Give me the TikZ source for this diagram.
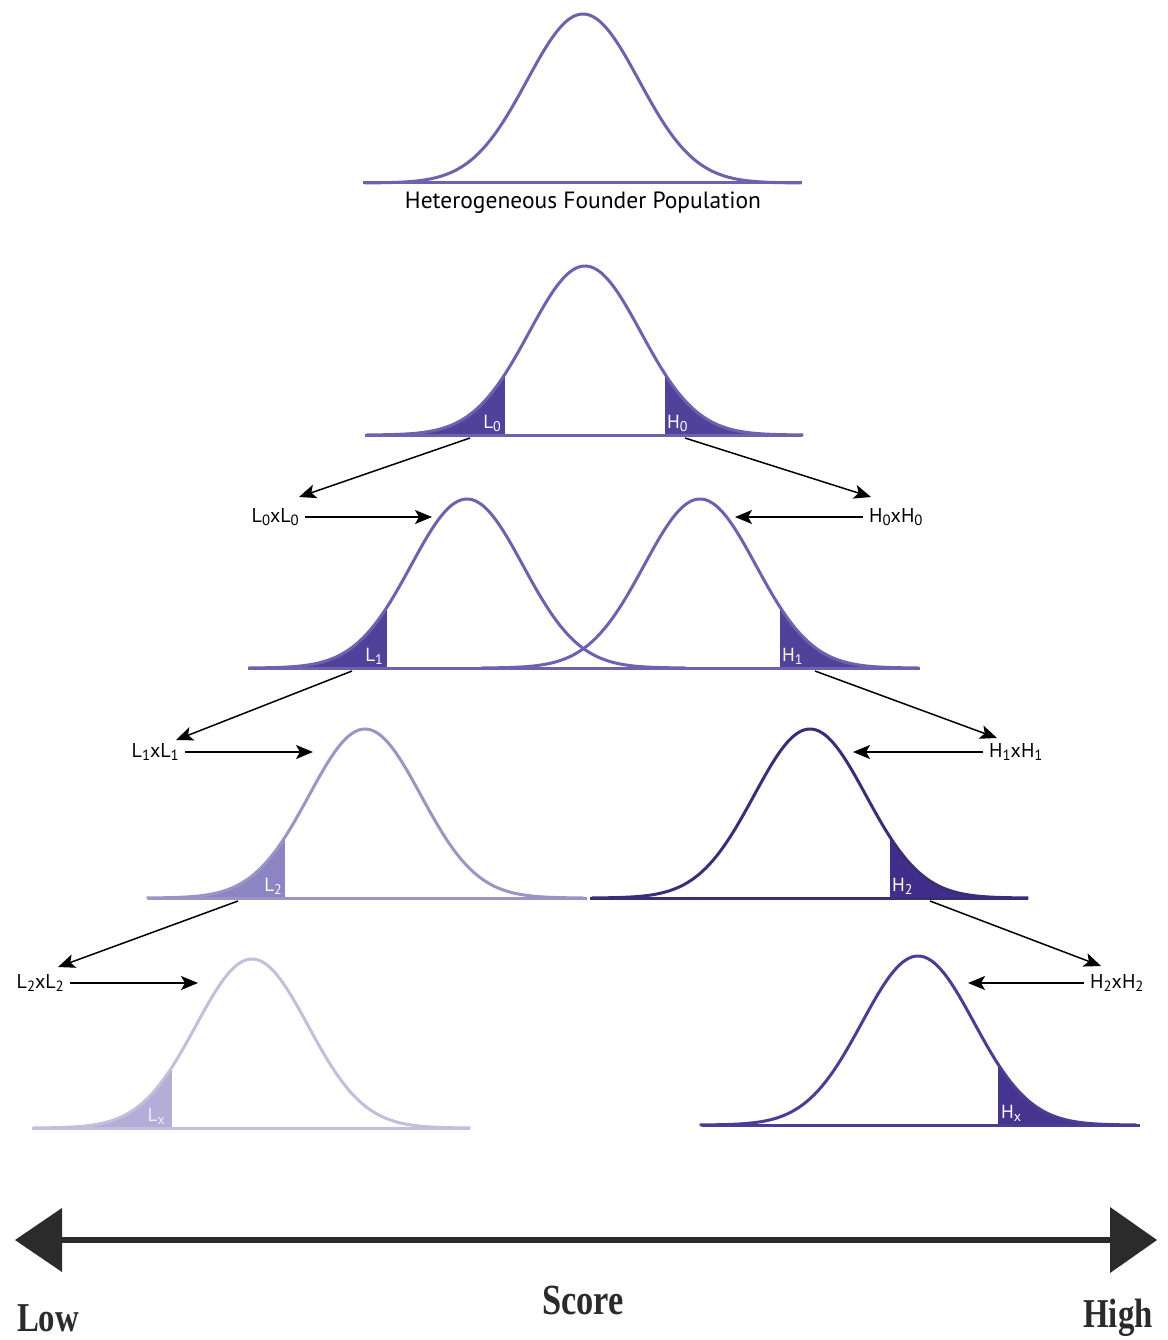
\documentclass[tikz,border=0pt]{standalone}
\usepackage{fontspec}
\setmainfont{PT Sans}
\newfontfamily\axisfont{Liberation Serif}
\usetikzlibrary{arrows.meta}
\definecolor{cmain}{HTML}{6C63B0}
\definecolor{fmain}{HTML}{50419B}
\definecolor{cltwo}{HTML}{9A95C6}
\definecolor{fltwo}{HTML}{8C84C3}
\definecolor{chtwo}{HTML}{3C2D78}
\definecolor{fhtwo}{HTML}{3F2F8A}
\definecolor{clx}{HTML}{C2BEDB}
\definecolor{flx}{HTML}{B3ADD8}
\definecolor{chx}{HTML}{4B3C96}
\definecolor{fhx}{HTML}{45358F}
\definecolor{axisgray}{HTML}{2B2B2B}
\newcommand\lsub[1]{\raisebox{-0.35ex}{\scalebox{0.74}{#1}}}
\tikzset{
  curveline/.style={line width=3pt, line join=round},
  baseline/.style={line width=3pt},
  lab/.style={inner sep=0pt, inner xsep=6pt, font=\fontsize{20}{22}\selectfont},
  taillab/.style={inner sep=0pt, text=white, font=\fontsize{19}{21}\selectfont},
  diag/.style={line width=1.5pt, -{Stealth[length=17pt,width=14pt,inset=4pt]}},
  harrow/.style={line width=1.5pt, -{Stealth[length=17pt,width=14pt,inset=4pt]}},
  axislab/.style={inner sep=0pt, text=axisgray}
}
% center, baseline, colour
\newcommand\bellcurve[3]{\draw[curveline,#3] plot[domain=-3.9:3.9,samples=120,smooth] ({#1+56*\x},{#2-169*exp(-0.5*\x*\x)});}
\newcommand\lowtail[3]{\fill[#3] plot[domain=-3.9:-1.43,samples=60,smooth] ({#1+56*\x},{#2-169*exp(-0.5*\x*\x)}) -- ({#1-1.43*56},{#2}) -- cycle;}
\newcommand\hightail[3]{\fill[#3] ({#1+1.43*56},{#2}) -- plot[domain=1.43:3.9,samples=60,smooth] ({#1+56*\x},{#2-169*exp(-0.5*\x*\x)}) -- cycle;}
\begin{document}
\begin{tikzpicture}[x=1pt,y=-1pt]
\useasboundingbox (0,0) rectangle (1167,1340);
\fill[white] (0,0) rectangle (1167,1340);

% founder population
\bellcurve{583}{183}{cmain}
\draw[baseline,cmain] (363,183) -- (802,183);
\node[inner sep=0pt, font=\fontsize{23.5}{26}\selectfont] (founder) at (583,203) {Heterogeneous Founder Population};

% generation 0
\lowtail{585}{435}{fmain}
\hightail{585}{435}{fmain}
\bellcurve{585}{435}{cmain}
\draw[baseline,cmain] (365,435) -- (802,435);
\node[taillab, anchor=south east] (tL0) at (501,432) {L\lsub{0}};
\node[taillab, anchor=south west] (tH0) at (667,432) {H\lsub{0}};

% generation 1
\lowtail{467}{668}{fmain}
\hightail{700}{668}{fmain}
\bellcurve{467}{668}{cmain}
\bellcurve{700}{668}{cmain}
\draw[baseline,cmain] (248,668) -- (920,668);
\node[taillab, anchor=south east] (tL1) at (383,665) {L\lsub{1}};
\node[taillab, anchor=south west] (tH1) at (782,665) {H\lsub{1}};

% generation 2
\lowtail{365}{898}{fltwo}
\hightail{810}{898}{fhtwo}
\bellcurve{365}{898}{cltwo}
\bellcurve{810}{898}{chtwo}
\draw[baseline,cltwo] (148,898) -- (587,898);
\draw[baseline,chtwo] (590,898) -- (1028,898);
\node[taillab, anchor=south east] (tL2) at (282,895) {L\lsub{2}};
\node[taillab, anchor=south west] (tH2) at (892,895) {H\lsub{2}};

% generation x
\lowtail{252}{1128}{flx}
\hightail{918}{1125}{fhx}
\bellcurve{252}{1128}{clx}
\bellcurve{918}{1125}{chx}
\draw[baseline,clx] (32,1128) -- (470,1128);
\draw[baseline,chx] (702,1125) -- (1140,1125);
\node[taillab, anchor=south east, text=white!80!flx] (tLx) at (165,1125) {L\lsub{x}};
\node[taillab, anchor=south west] (tHx) at (1001,1122) {H\lsub{x}};

% cross labels
\node[lab, anchor=east] (LL0) at (305,517) {L\lsub{0}xL\lsub{0}};
\node[lab, anchor=west] (HH0) at (863,517) {H\lsub{0}xH\lsub{0}};
\node[lab, anchor=east] (LL1) at (185,752) {L\lsub{1}xL\lsub{1}};
\node[lab, anchor=west] (HH1) at (983,752) {H\lsub{1}xH\lsub{1}};
\node[lab, anchor=east] (LL2) at (70,983) {L\lsub{2}xL\lsub{2}};
\node[lab, anchor=west] (HH2) at (1084,983) {H\lsub{2}xH\lsub{2}};

% selection arrows
\coordinate (sL0) at (470,438); \coordinate (eL0) at (299,497);
\coordinate (sH0) at (685,438); \coordinate (eH0) at (871,497);
\coordinate (sL1) at (352,671); \coordinate (eL1) at (176,740);
\coordinate (sH1) at (815,671); \coordinate (eH1) at (997,738);
\coordinate (sL2) at (238,901); \coordinate (eL2) at (58,967);
\coordinate (sH2) at (930,901); \coordinate (eH2) at (1101,966);
\draw[diag] (sL0) -- (eL0);
\draw[diag] (sH0) -- (eH0);
\draw[diag] (sL1) -- (eL1);
\draw[diag] (sH1) -- (eH1);
\draw[diag] (sL2) -- (eL2);
\draw[diag] (sH2) -- (eH2);

% offspring arrows
\coordinate (pL1) at (432,517);
\coordinate (pH1) at (735,517);
\coordinate (pL2) at (313,752);
\coordinate (pH2) at (853,752);
\coordinate (pLx) at (198,983);
\coordinate (pHx) at (968,983);
\draw[harrow] (LL0.east) -- (pL1);
\draw[harrow] (HH0.west) -- (pH1);
\draw[harrow] (LL1.east) -- (pL2);
\draw[harrow] (HH1.west) -- (pH2);
\draw[harrow] (LL2.east) -- (pLx);
\draw[harrow] (HH2.west) -- (pHx);

% score axis
\coordinate (axL) at (15,1240);
\coordinate (axR) at (1157,1240);
\draw[axisgray, line width=6pt] (62,1240) -- (1110,1240);
\fill[axisgray] (axL) -- (62,1208) -- (62,1272) -- cycle;
\fill[axisgray] (axR) -- (1110,1207) -- (1110,1273) -- cycle;
\node[axislab] (score) at (583,1300) {\axisfont\bfseries\fontsize{43}{46}\selectfont\scalebox{0.8}[1]{Score}};
\node[axislab] (low) at (48,1318) {\axisfont\bfseries\fontsize{41}{44}\selectfont\scalebox{0.8}[1]{Low}};
\node[axislab] (high) at (1118,1318) {\axisfont\bfseries\fontsize{41}{44}\selectfont\scalebox{0.8}[1]{High}};
\end{tikzpicture}
\end{document}
